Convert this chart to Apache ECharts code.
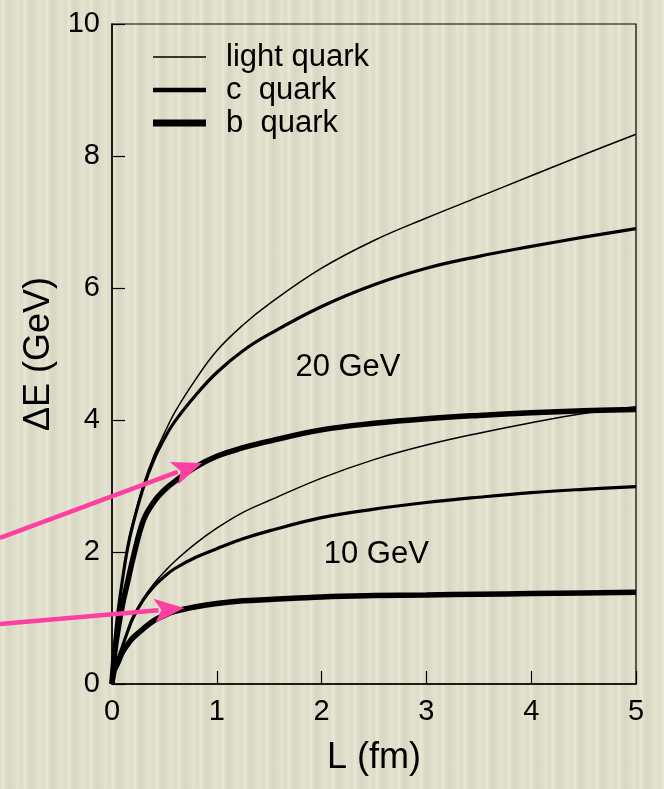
<!DOCTYPE html>
<html>
<head>
<meta charset="utf-8">
<script src="https://cdn.jsdelivr.net/npm/echarts@6/dist/echarts.min.js"></script>
<style>
html, body { margin: 0; padding: 0; }
#main {
    width: 664px; height: 789px;
    background-color: #dcdcc8;
    background-image: repeating-linear-gradient(90deg,
        rgba(255,255,240,0) 0px, rgba(255,255,240,0.35) 3px, rgba(255,255,240,0) 6px,
        rgba(170,170,150,0.10) 9px, rgba(255,255,240,0) 13px, rgba(255,255,240,0.2) 17px, rgba(255,255,240,0) 22px);
}
</style>
</head>
<body>
<div id="main"></div>
<script>
// path length L (fm)
var L = [0, 0.02, 0.05, 0.1, 0.15, 0.2, 0.3, 0.4, 0.5, 0.6, 0.8, 1.0, 1.25, 1.5, 2.0, 2.5, 3.0, 3.5, 4.0, 4.5, 5.0];
// energy loss dE (GeV), E = 20 GeV
var light20 = [0, 0.5, 1.0, 1.6, 2.1, 2.45, 3.02, 3.46, 3.8, 4.12, 4.62, 5.05, 5.44, 5.76, 6.3, 6.72, 7.06, 7.38, 7.7, 8.02, 8.33];
var c20     = [0, 0.5, 1.0, 1.58, 2.07, 2.42, 2.98, 3.4, 3.72, 3.98, 4.38, 4.72, 5.05, 5.3, 5.72, 6.05, 6.3, 6.48, 6.63, 6.77, 6.9];
var b20     = [0, 0.4, 0.75, 1.2, 1.55, 1.9, 2.48, 2.76, 2.94, 3.07, 3.29, 3.45, 3.58, 3.68, 3.85, 3.95, 4.02, 4.07, 4.11, 4.14, 4.16];
// E = 10 GeV
var light10 = [0, 0.2, 0.35, 0.57, 0.8, 1.02, 1.3, 1.52, 1.7, 1.86, 2.13, 2.36, 2.6, 2.78, 3.12, 3.4, 3.62, 3.8, 3.96, 4.1, 4.2];
var c10     = [0, 0.2, 0.35, 0.57, 0.8, 1.0, 1.28, 1.48, 1.63, 1.75, 1.92, 2.05, 2.2, 2.32, 2.52, 2.65, 2.75, 2.83, 2.9, 2.95, 2.99];
var b10     = [0, 0.2, 0.3, 0.48, 0.6, 0.7, 0.84, 0.96, 1.04, 1.1, 1.17, 1.22, 1.26, 1.28, 1.32, 1.34, 1.35, 1.36, 1.37, 1.38, 1.39];

var legendNames = ['light quark', 'c  quark', 'b  quark'];
var legendWidths = [1.5, 4.5, 7];
var energyLabels = [{ text: '20 GeV', at: [1.75, 4.8] }, { text: '10 GeV', at: [2.02, 1.97] }];
var arrowTips = [[0.86, 3.35], [0.69, 1.15]];
var arrowStartY = [538, 624];

var font = 'Liberation Sans';
var pink = '#fd3fa2';

function pairs(ys) {
    return L.map(function (x, i) { return [x, ys[i]]; });
}

function curve(name, ys, w) {
    return {
        name: name,
        type: 'line',
        data: pairs(ys),
        smooth: 0.4,
        showSymbol: false,
        lineStyle: { color: '#000', width: w },
        z: w > 4 ? 4 : 3,
        animation: false
    };
}

var myChart = echarts.init(document.getElementById('main'));
var option = {
    backgroundColor: 'transparent',
    animation: false,
    textStyle: { fontFamily: font, color: '#000' },
    grid: {
        left: 112, right: 28, top: 24, bottom: 105,
        show: true, borderColor: '#000', borderWidth: 1.2,
        backgroundColor: 'transparent'
    },
    xAxis: {
        type: 'value', min: 0, max: 5, interval: 1,
        name: 'L (fm)', nameLocation: 'middle', nameGap: 56,
        nameTextStyle: { fontSize: 36, fontFamily: font, color: '#000' },
        axisLine: { lineStyle: { color: '#000', width: 1.5 } },
        axisTick: { inside: true, length: 13, lineStyle: { color: '#000', width: 1.2 } },
        axisLabel: { fontSize: 29, color: '#000', margin: 13, fontFamily: font },
        splitLine: { show: false }
    },
    yAxis: {
        type: 'value', min: 0, max: 10, interval: 2,
        name: 'ΔE (GeV)', nameLocation: 'middle', nameGap: 50,
        nameTextStyle: { fontSize: 36, fontFamily: font, color: '#000' },
        axisLine: { lineStyle: { color: '#000', width: 1.5 } },
        axisTick: { inside: true, length: 13, lineStyle: { color: '#000', width: 1.2 } },
        axisLabel: { fontSize: 29, color: '#000', margin: 12, fontFamily: font },
        splitLine: { show: false }
    },
    series: [
        curve('light quark 20', light20, 1.5),
        curve('c quark 20', c20, 3.2),
        curve('b quark 20', b20, 5.5),
        curve('light quark 10', light10, 1.5),
        curve('c quark 10', c10, 3.2),
        curve('b quark 10', b10, 5.5)
    ]
};
myChart.setOption(option);

// legend, energy labels and pink arrows
var g = [];
legendNames.forEach(function (n, i) {
    var y = 57 + i * 33;
    g.push({ type: 'line', shape: { x1: 153, y1: y, x2: 206, y2: y },
        style: { stroke: '#000', lineWidth: legendWidths[i] }, z: 10 });
    g.push({ type: 'text', x: 226, y: y,
        style: { text: n, fontSize: 31, fontFamily: font, fill: '#000', verticalAlign: 'middle' }, z: 10 });
});
energyLabels.forEach(function (e) {
    var p = myChart.convertToPixel({ gridIndex: 0 }, e.at);
    g.push({ type: 'text', x: p[0], y: p[1],
        style: { text: e.text, fontSize: 31, fontFamily: font, fill: '#000', verticalAlign: 'middle' }, z: 10 });
});
arrowTips.forEach(function (t, i) {
    var tip = myChart.convertToPixel({ gridIndex: 0 }, t);
    var sx = 0, sy = arrowStartY[i];
    var dx = tip[0] - sx, dy = tip[1] - sy;
    var len = Math.sqrt(dx * dx + dy * dy);
    var ux = dx / len, uy = dy / len;
    var hl = 30, hw = 12;
    var bx = tip[0] - ux * hl, by = tip[1] - uy * hl;
    g.push({ type: 'line', shape: { x1: sx, y1: sy, x2: bx + ux * 4, y2: by + uy * 4 },
        style: { stroke: pink, lineWidth: 4.5 }, z: 20 });
    g.push({ type: 'polygon', shape: { points: [
            [tip[0], tip[1]],
            [bx - uy * hw, by + ux * hw],
            [bx + ux * 7, by + uy * 7],
            [bx + uy * hw, by - ux * hw]
        ] }, style: { fill: pink }, z: 20 });
});
myChart.setOption({ graphic: g });
</script>
</body>
</html>
